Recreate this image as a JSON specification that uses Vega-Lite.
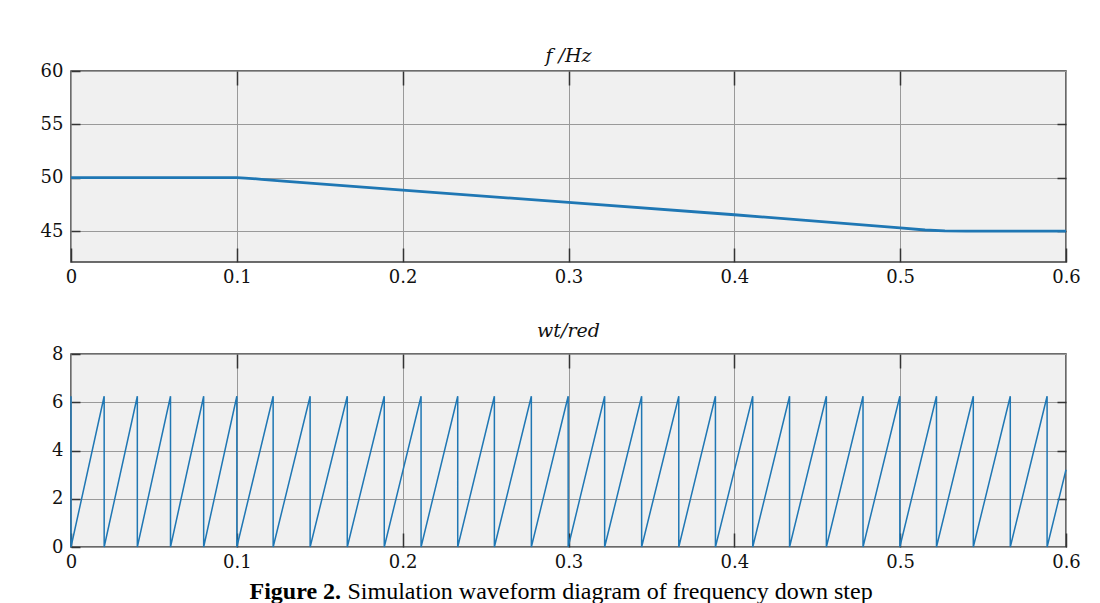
{
  "$schema": "https://vega.github.io/schema/vega-lite/v6.json",
  "background": "white",
  "padding": {"left": 30, "top": 46, "right": 5, "bottom": 0},
  "spacing": 28,
  "config": {
    "view": {"fill": "#f0f0f0", "stroke": "#3c3c3c", "strokeWidth": 1.5},
    "axis": {
      "labelFont": "DejaVu Serif",
      "labelFontSize": 18,
      "labelColor": "#111111",
      "gridColor": "#999999",
      "gridOpacity": 1,
      "gridWidth": 1,
      "domain": false,
      "tickColor": "#333333",
      "tickWidth": 1.5,
      "labelFlush": false,
      "labelOverlap": false
    },
    "axisX": {"tickSize": -14, "labelPadding": 20},
    "axisY": {"tickSize": -9, "labelPadding": 17, "minExtent": 40, "maxExtent": 40},
    "title": {"font": "DejaVu Serif", "fontStyle": "italic", "fontWeight": "normal", "fontSize": 19, "color": "#111111", "baseline": "alphabetic"}
  },
  "datasets": {
    "freq": [
      {"t": 0, "f": 50.0},
      {"t": 0.1, "f": 50.0},
      {"t": 0.105, "f": 49.97},
      {"t": 0.115, "f": 49.85},
      {"t": 0.13, "f": 49.65},
      {"t": 0.2, "f": 48.84},
      {"t": 0.3, "f": 47.68},
      {"t": 0.4, "f": 46.53},
      {"t": 0.5, "f": 45.3},
      {"t": 0.515, "f": 45.1},
      {"t": 0.527, "f": 45.02},
      {"t": 0.54, "f": 45.0},
      {"t": 0.6, "f": 45.0}
    ],
    "saw": [
      {"i": 0, "t": 0, "w": 6.25}, {"i": 1, "t": 0, "w": 0},
      {"i": 2, "t": 0.02, "w": 6.25}, {"i": 3, "t": 0.02, "w": 0},
      {"i": 4, "t": 0.04, "w": 6.25}, {"i": 5, "t": 0.04, "w": 0},
      {"i": 6, "t": 0.06, "w": 6.25}, {"i": 7, "t": 0.06, "w": 0},
      {"i": 8, "t": 0.08, "w": 6.25}, {"i": 9, "t": 0.08, "w": 0},
      {"i": 10, "t": 0.1, "w": 6.25}, {"i": 11, "t": 0.1, "w": 0},
      {"i": 12, "t": 0.1219, "w": 6.25}, {"i": 13, "t": 0.1219, "w": 0},
      {"i": 14, "t": 0.1442, "w": 6.25}, {"i": 15, "t": 0.1442, "w": 0},
      {"i": 16, "t": 0.1666, "w": 6.25}, {"i": 17, "t": 0.1666, "w": 0},
      {"i": 18, "t": 0.1889, "w": 6.25}, {"i": 19, "t": 0.1889, "w": 0},
      {"i": 20, "t": 0.2111, "w": 6.25}, {"i": 21, "t": 0.2111, "w": 0},
      {"i": 22, "t": 0.2332, "w": 6.25}, {"i": 23, "t": 0.2332, "w": 0},
      {"i": 24, "t": 0.2553, "w": 6.25}, {"i": 25, "t": 0.2553, "w": 0},
      {"i": 26, "t": 0.2776, "w": 6.25}, {"i": 27, "t": 0.2776, "w": 0},
      {"i": 28, "t": 0.2998, "w": 6.25}, {"i": 29, "t": 0.2998, "w": 0},
      {"i": 30, "t": 0.3218, "w": 6.25}, {"i": 31, "t": 0.3218, "w": 0},
      {"i": 32, "t": 0.3441, "w": 6.25}, {"i": 33, "t": 0.3441, "w": 0},
      {"i": 34, "t": 0.3665, "w": 6.25}, {"i": 35, "t": 0.3665, "w": 0},
      {"i": 36, "t": 0.3886, "w": 6.25}, {"i": 37, "t": 0.3886, "w": 0},
      {"i": 38, "t": 0.4111, "w": 6.25}, {"i": 39, "t": 0.4111, "w": 0},
      {"i": 40, "t": 0.4333, "w": 6.25}, {"i": 41, "t": 0.4333, "w": 0},
      {"i": 42, "t": 0.4555, "w": 6.25}, {"i": 43, "t": 0.4555, "w": 0},
      {"i": 44, "t": 0.4776, "w": 6.25}, {"i": 45, "t": 0.4776, "w": 0},
      {"i": 46, "t": 0.4998, "w": 6.25}, {"i": 47, "t": 0.4998, "w": 0},
      {"i": 48, "t": 0.5219, "w": 6.25}, {"i": 49, "t": 0.5219, "w": 0},
      {"i": 50, "t": 0.5441, "w": 6.25}, {"i": 51, "t": 0.5441, "w": 0},
      {"i": 52, "t": 0.5664, "w": 6.25}, {"i": 53, "t": 0.5664, "w": 0},
      {"i": 54, "t": 0.5886, "w": 6.25}, {"i": 55, "t": 0.5886, "w": 0},
      {"i": 56, "t": 0.6, "w": 3.2}
    ]
  },
  "vconcat": [
    {
      "width": 995,
      "height": 191,
      "title": {"text": "f /Hz", "offset": -4},
      "data": {"name": "freq"},
      "layer": [
        {
          "mark": {"type": "line", "color": "#1f77b4", "strokeWidth": 2.8},
          "encoding": {
            "x": {
              "field": "t", "type": "quantitative",
              "scale": {"domain": [0, 0.6], "nice": false},
              "axis": {"orient": "bottom", "values": [0, 0.1, 0.2, 0.3, 0.4, 0.5, 0.6], "format": "~g", "title": null, "minExtent": 30, "maxExtent": 30}
            },
            "y": {
              "field": "f", "type": "quantitative",
              "scale": {"domain": [42.1, 60], "nice": false, "zero": false},
              "axis": {"orient": "left", "values": [45, 50, 55, 60], "title": null}
            }
          }
        },
        {
          "mark": {"type": "line", "opacity": 0},
          "encoding": {
            "x": {
              "field": "t", "type": "quantitative",
              "scale": {"domain": [0, 0.6], "nice": false},
              "axis": {"orient": "top", "values": [0.1, 0.2, 0.3, 0.4, 0.5], "labels": false, "grid": false, "title": null, "minExtent": 0, "maxExtent": 0}
            },
            "y": {
              "field": "f", "type": "quantitative",
              "scale": {"domain": [42.1, 60], "nice": false, "zero": false},
              "axis": {"orient": "right", "values": [45, 50, 55], "labels": false, "grid": false, "title": null, "minExtent": 0, "maxExtent": 0}
            }
          }
        }
      ],
      "resolve": {"axis": {"x": "independent", "y": "independent"}}
    },
    {
      "width": 995,
      "height": 193,
      "title": {"text": "wt/red", "offset": 4},
      "data": {"name": "saw"},
      "layer": [
        {
          "mark": {"type": "line", "color": "#1f77b4", "strokeWidth": 1.5},
          "encoding": {
            "x": {
              "field": "t", "type": "quantitative",
              "scale": {"domain": [0, 0.6], "nice": false},
              "axis": {
                "orient": "bottom",
                "values": [0, 0.1, 0.2, 0.3, 0.4, 0.5, 0.6], "format": "~g",
                "title": "Figure 2.",
                "titleFont": "Liberation Serif", "titleFontSize": 24, "titleFontWeight": "bold", "titleColor": "#000000",
                "titleX": 178, "titleY": 51, "titleAlign": "left", "titleBaseline": "alphabetic"
              }
            },
            "y": {
              "field": "w", "type": "quantitative",
              "scale": {"domain": [0, 8], "nice": false},
              "axis": {"orient": "left", "values": [0, 2, 4, 6, 8], "title": null}
            },
            "order": {"field": "i", "type": "quantitative"}
          }
        },
        {
          "mark": {"type": "line", "opacity": 0},
          "encoding": {
            "x": {
              "field": "t", "type": "quantitative",
              "scale": {"domain": [0, 0.6], "nice": false},
              "axis": {
                "orient": "bottom",
                "labels": false, "ticks": false, "grid": false, "domain": false,
                "title": "Simulation waveform diagram of frequency down step",
                "titleFont": "Liberation Serif", "titleFontSize": 24, "titleFontWeight": "normal", "titleColor": "#000000",
                "titleX": 276, "titleY": 51, "titleAlign": "left", "titleBaseline": "alphabetic"
              }
            },
            "y": {
              "field": "w", "type": "quantitative",
              "scale": {"domain": [0, 8], "nice": false},
              "axis": {"orient": "right", "values": [2, 4, 6], "labels": false, "grid": false, "title": null, "minExtent": 0, "maxExtent": 0}
            },
            "order": {"field": "i", "type": "quantitative"}
          }
        },
        {
          "mark": {"type": "line", "opacity": 0},
          "encoding": {
            "x": {
              "field": "t", "type": "quantitative",
              "scale": {"domain": [0, 0.6], "nice": false},
              "axis": {"orient": "top", "values": [0.1, 0.2, 0.3, 0.4, 0.5], "labels": false, "grid": false, "title": null, "minExtent": 0, "maxExtent": 0}
            },
            "y": {
              "field": "w", "type": "quantitative",
              "scale": {"domain": [0, 8], "nice": false},
              "axis": null
            },
            "order": {"field": "i", "type": "quantitative"}
          }
        }
      ],
      "resolve": {"axis": {"x": "independent", "y": "independent"}}
    }
  ]
}
